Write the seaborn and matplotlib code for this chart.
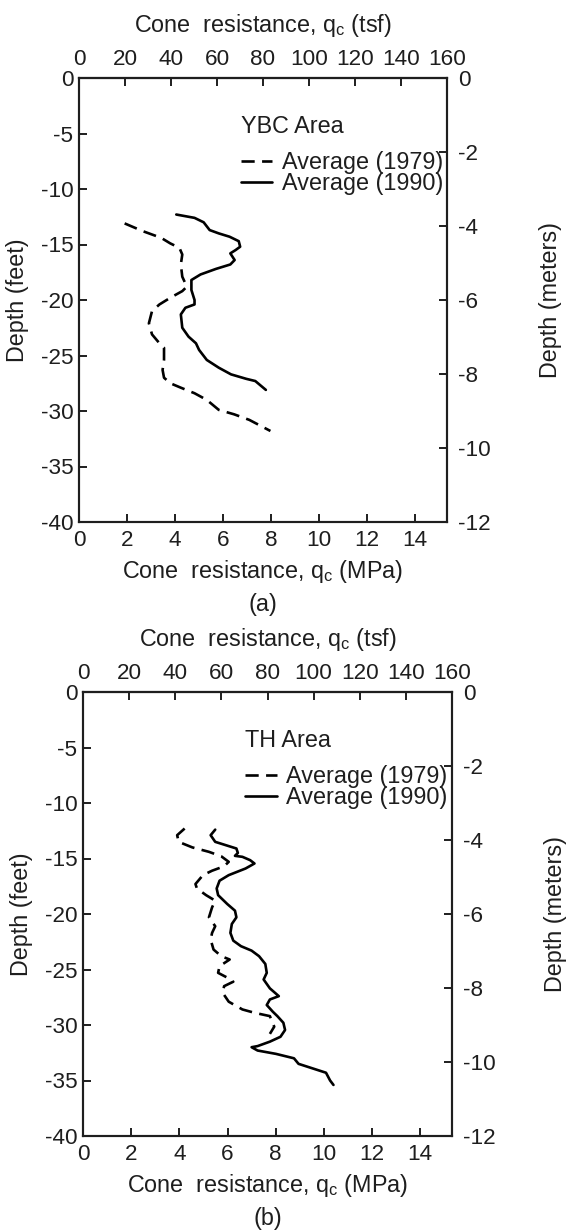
import numpy as np
import pandas as pd
import matplotlib
matplotlib.use('Agg')
import matplotlib.pyplot as plt
import seaborn as sns
from matplotlib.lines import Line2D

# (a) YBC area - depth in feet, cone resistance in MPa
ybc_1979_depth = [-13.1, -13.8, -14.4, -14.9, -15.3, -15.9, -16.8, -17.9, -18.8, -19.2, -19.8, -20.4,
                  -21.0, -22.1, -23.1, -23.9, -24.3, -25.4, -26.3, -27.0, -27.5, -27.9, -28.4, -29.0,
                  -29.9, -30.3, -30.8, -31.8]
ybc_1979_qc = [1.90, 2.66, 3.42, 3.80, 4.18, 4.30, 4.24, 4.30, 4.49, 4.30, 3.80, 3.35,
               3.04, 2.91, 3.04, 3.35, 3.54, 3.54, 3.48, 3.54, 3.80, 4.24, 4.81, 5.32,
               5.82, 6.46, 7.09, 7.97]
ybc_1990_depth = [-12.3, -12.6, -13.0, -13.7, -14.0, -14.3, -14.7, -15.2, -15.5, -15.8, -16.4, -16.8,
                  -17.2, -17.7, -18.2, -19.1, -20.0, -20.4, -20.7, -21.3, -22.5, -23.3, -23.9, -24.5,
                  -25.4, -26.1, -26.7, -27.1, -27.3, -28.1]
ybc_1990_qc = [4.05, 4.81, 5.19, 5.44, 5.82, 6.27, 6.65, 6.71, 6.52, 6.30, 6.48, 6.30,
               5.70, 5.06, 4.68, 4.68, 4.81, 4.81, 4.43, 4.24, 4.30, 4.56, 4.87, 5.00,
               5.32, 5.82, 6.33, 6.96, 7.34, 7.78]

# (b) TH area
th_1979_depth = [-12.3, -12.9, -13.5, -14.0, -14.4, -14.8, -15.3, -15.7, -16.1, -16.5, -17.3, -17.7,
                 -18.3, -18.8, -19.4, -20.3, -21.1, -21.7, -22.3, -23.2, -23.8, -24.1, -24.7, -25.3,
                 -25.8, -26.1, -26.5, -27.1, -27.9, -28.6, -28.9, -29.2, -30.15, -30.8]
th_1979_qc = [4.22, 3.91, 3.97, 4.54, 5.23, 5.74, 6.05, 5.86, 5.36, 4.98, 4.67, 4.73,
              5.11, 5.49, 5.36, 5.23, 5.49, 5.36, 5.30, 5.42, 5.74, 6.09, 5.67, 5.61,
              6.05, 6.24, 5.86, 5.80, 6.05, 6.62, 7.12, 7.76, 7.94, 7.76]
th_1990_depth = [-12.4, -12.9, -13.5, -13.8, -14.1, -14.5, -14.76, -14.85, -15.15, -15.45, -15.9, -16.5,
                 -17.0, -17.7, -18.3, -19.1, -19.7, -20.3, -20.9, -21.7, -22.4, -22.9, -23.3, -23.8,
                 -24.5, -25.3, -25.9, -26.7, -27.4, -27.7, -28.2, -28.8, -29.2, -29.8, -30.45, -31.06,
                 -31.5, -31.9, -32.0, -32.3, -32.6, -33.0, -33.5, -33.9, -34.3, -35.0, -35.4]
th_1990_qc = [5.49, 5.30, 5.49, 5.93, 6.37, 6.43, 6.31, 6.62, 6.94, 7.12, 6.75, 6.05,
              5.67, 5.55, 5.61, 5.99, 6.31, 6.37, 6.18, 6.12, 6.24, 6.56, 7.00, 7.31,
              7.57, 7.63, 7.50, 7.76, 8.13, 7.76, 7.63, 7.88, 8.07, 8.32, 8.39, 8.20,
              7.76, 7.25, 7.00, 7.25, 8.01, 8.76, 8.95, 9.52, 10.09, 10.26, 10.40]

mpa_ticks = [0, 2, 4, 6, 8, 10, 12, 14]
tsf_ticks = [0, 20, 40, 60, 80, 100, 120, 140, 160]
ft_ticks = [0, -5, -10, -15, -20, -25, -30, -35, -40]
m_ticks = [0, -2, -4, -6, -8, -10, -12]
MPA_PER_TSF = 0.09576

sns.set_theme(style='ticks')
plt.rcParams['font.family'] = ['Liberation Sans', 'DejaVu Sans']
plt.rcParams['axes.unicode_minus'] = False
plt.rcParams['mathtext.default'] = 'regular'

LBL = 16.8
TCK = 16.2
LW = 1.9
DASH = (5, 2.8)
INK = '#1e1e1e'

fig = plt.figure(figsize=(5.72, 12.31), dpi=100)
ax1 = fig.add_axes([79/572, 1-522/1231, 368/572, 444/1231])
ax2 = fig.add_axes([83/572, 1-1136/1231, 369/572, 444/1231])


def panel(ax, area, d79, q79, d90, q90, tag):
    df79 = pd.DataFrame({'qc': q79, 'depth': d79})
    df90 = pd.DataFrame({'qc': q90, 'depth': d90})
    sns.lineplot(data=df79, x='qc', y='depth', sort=False, estimator=None,
                 color='black', linewidth=LW, ax=ax)
    ax.lines[-1].set_dashes(DASH)
    sns.lineplot(data=df90, x='qc', y='depth', sort=False, estimator=None,
                 color='black', linewidth=LW, ax=ax)

    ax.set_xlim(0, 160 * MPA_PER_TSF)
    ax.set_ylim(-40, 0)
    ax.set_xticks(mpa_ticks)
    ax.set_yticks(ft_ticks)
    ax.tick_params(direction='in', length=6, width=1.4, labelsize=TCK, colors=INK)
    ax.tick_params(axis='x', pad=6)
    ax.tick_params(axis='y', pad=4)
    for s in ax.spines.values():
        s.set_linewidth(1.5)
        s.set_color(INK)
    ax.set_xlabel('Cone  resistance, q$_c$ (MPa)', fontsize=LBL, labelpad=5, color=INK)
    ax.set_ylabel('Depth (feet)', fontsize=LBL, color=INK)
    ax.yaxis.set_label_coords(-0.135, 0.5)

    top = ax.secondary_xaxis('top', functions=(lambda x: x / MPA_PER_TSF, lambda t: t * MPA_PER_TSF))
    top.set_xticks(tsf_ticks)
    top.tick_params(direction='in', length=6, width=1.4, labelsize=TCK, pad=6, colors=INK)
    top.spines['top'].set_linewidth(1.5)
    top.set_xlabel('Cone  resistance, q$_c$ (tsf)', fontsize=LBL, labelpad=12, color=INK)

    right = ax.twinx()
    right.set_ylim(-12, 0)
    right.set_yticks(m_ticks)
    right.tick_params(direction='in', length=6, width=1.4, labelsize=TCK, pad=8, colors=INK)
    for s in right.spines.values():
        s.set_linewidth(1.5)
        s.set_color(INK)
    right.set_ylabel('Depth (meters)', fontsize=LBL, color=INK)
    right.yaxis.set_label_coords(1.25, 0.5)

    ax.text(0.44, 0.89, area, transform=ax.transAxes, fontsize=LBL, va='center', ha='left',
            color=INK)
    handles = [Line2D([], [], color='black', lw=LW, dashes=DASH),
               Line2D([], [], color='black', lw=LW)]
    ax.legend(handles, ['Average (1979)', 'Average (1990)'], loc='upper left',
              bbox_to_anchor=(0.44, 0.835), frameon=False, fontsize=LBL, borderpad=0,
              borderaxespad=0, handlelength=1.35, handletextpad=0.4, labelspacing=-0.1,
              labelcolor=INK)
    ax.text(0.5, -0.185, tag, transform=ax.transAxes, fontsize=LBL, ha='center', va='center',
            color=INK)


panel(ax1, 'YBC Area', ybc_1979_depth, ybc_1979_qc, ybc_1990_depth, ybc_1990_qc, '(a)')
panel(ax2, 'TH Area', th_1979_depth, th_1979_qc, th_1990_depth, th_1990_qc, '(b)')

fig.savefig('out.png', dpi=100)
